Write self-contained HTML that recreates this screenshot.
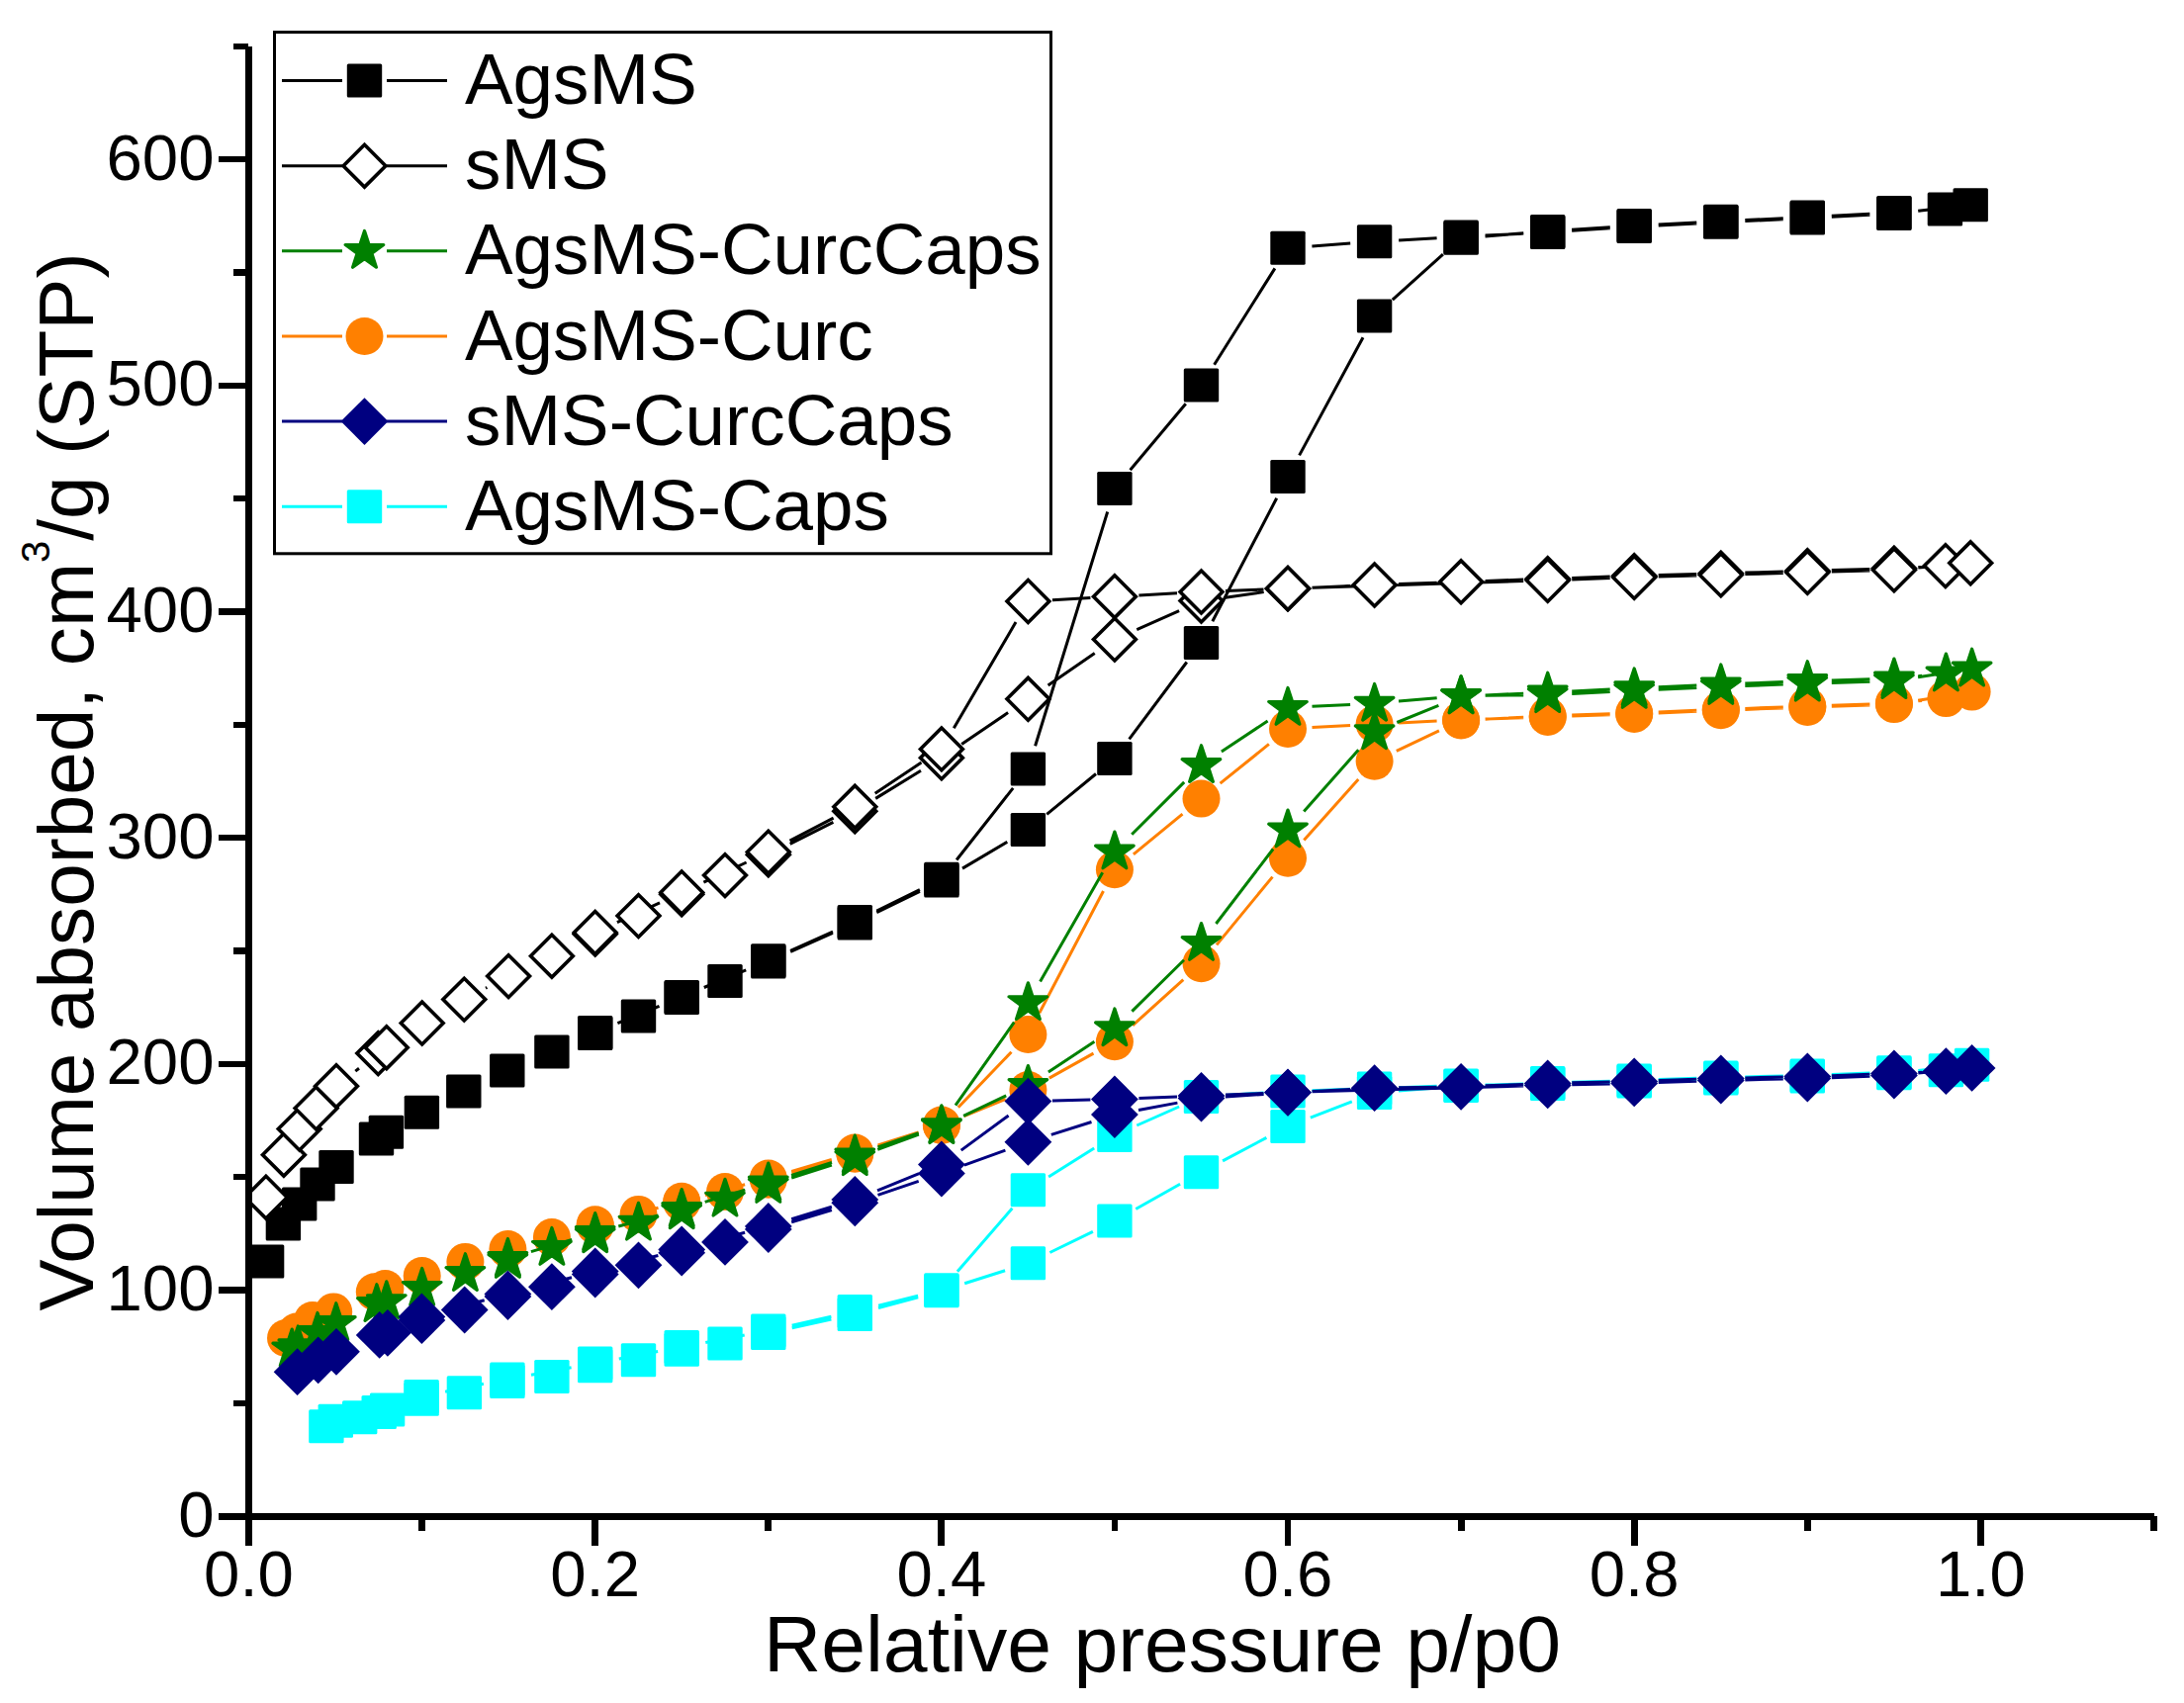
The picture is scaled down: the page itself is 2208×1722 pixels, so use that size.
<!DOCTYPE html><html><head><meta charset="utf-8"><title>Isotherms</title><style>html,body{margin:0;padding:0;background:#fff}body{width:2208px;height:1722px;position:relative;overflow:hidden}</style></head><body><svg width="2208" height="1722" viewBox="0 0 2208 1722" style="display:block;position:absolute;left:0;top:0">
<rect width="2208" height="1722" fill="#fff"/>
<defs><clipPath id="pc"><rect x="251.5" y="40" width="1940" height="1493"/></clipPath></defs>
<g clip-path="url(#pc)">
<g>
<path d="M799.2,962.5L841.9,943.4M886.3,922.6L929.9,901.3M973.0,878.1L1018.3,851.3M1058.3,823.3L1108.0,782.5M1141.6,747.3L1199.8,669.5M1225.8,628.2L1290.7,503.7M1313.6,460.4L1378.0,341.2M1407.8,303.2L1458.9,257.2M1501.5,238.9L1540.3,235.8M1589.1,232.3L1627.8,229.7M1676.7,226.9L1715.3,224.9M1764.3,222.6L1802.8,220.7M1851.8,218.3L1890.4,216.2M1939.3,213.2L1942.0,213.1M1967.9,210.0L1939.2,213.2M1890.4,217.2L1851.8,219.3M1802.8,221.7L1764.3,223.6M1715.3,225.9L1676.7,227.9M1627.8,230.7L1589.1,233.3M1540.2,236.2L1501.6,238.1M1452.6,240.8L1414.1,242.9M1365.2,246.1L1326.4,248.9M1288.9,271.4L1227.6,368.7M1198.8,408.2L1142.6,475.3M1119.7,517.5L1046.6,754.2M1024.2,796.9L967.1,869.5M929.9,899.6L886.3,921.2M842.0,942.0L799.1,961.3M754.2,980.8L711.8,998.5M666.5,1017.3L624.4,1034.7" stroke="#000000" stroke-width="3" fill="none" stroke-linecap="butt"/>
<rect x="251.9" y="1258.4" width="35.4" height="34" rx="1.5" fill="#000000"/>
<rect x="268.7" y="1220.5" width="35.4" height="34" rx="1.5" fill="#000000"/>
<rect x="285.0" y="1200.5" width="35.4" height="34" rx="1.5" fill="#000000"/>
<rect x="303.3" y="1180.5" width="35.4" height="34" rx="1.5" fill="#000000"/>
<rect x="322.3" y="1163.0" width="35.4" height="34" rx="1.5" fill="#000000"/>
<rect x="362.8" y="1134.5" width="35.4" height="34" rx="1.5" fill="#000000"/>
<rect x="372.7" y="1127.8" width="35.4" height="34" rx="1.5" fill="#000000"/>
<rect x="408.7" y="1107.8" width="35.4" height="34" rx="1.5" fill="#000000"/>
<rect x="451.1" y="1086.6" width="35.4" height="34" rx="1.5" fill="#000000"/>
<rect x="495.1" y="1065.4" width="35.4" height="34" rx="1.5" fill="#000000"/>
<rect x="540.2" y="1046.4" width="35.4" height="34" rx="1.5" fill="#000000"/>
<rect x="584.0" y="1028.0" width="35.4" height="34" rx="1.5" fill="#000000"/>
<rect x="627.8" y="1010.4" width="35.4" height="34" rx="1.5" fill="#000000"/>
<rect x="671.5" y="992.0" width="35.4" height="34" rx="1.5" fill="#000000"/>
<rect x="715.3" y="974.9" width="35.4" height="34" rx="1.5" fill="#000000"/>
<rect x="759.1" y="955.5" width="35.4" height="34" rx="1.5" fill="#000000"/>
<rect x="846.6" y="916.4" width="35.4" height="34" rx="1.5" fill="#000000"/>
<rect x="934.2" y="873.5" width="35.4" height="34" rx="1.5" fill="#000000"/>
<rect x="1021.7" y="821.9" width="35.4" height="34" rx="1.5" fill="#000000"/>
<rect x="1109.2" y="749.9" width="35.4" height="34" rx="1.5" fill="#000000"/>
<rect x="1196.8" y="632.9" width="35.4" height="34" rx="1.5" fill="#000000"/>
<rect x="1284.3" y="465.0" width="35.4" height="34" rx="1.5" fill="#000000"/>
<rect x="1371.9" y="302.6" width="35.4" height="34" rx="1.5" fill="#000000"/>
<rect x="1459.4" y="223.8" width="35.4" height="34" rx="1.5" fill="#000000"/>
<rect x="1547.0" y="216.9" width="35.4" height="34" rx="1.5" fill="#000000"/>
<rect x="1634.5" y="211.1" width="35.4" height="34" rx="1.5" fill="#000000"/>
<rect x="1722.1" y="206.7" width="35.4" height="34" rx="1.5" fill="#000000"/>
<rect x="1809.6" y="202.6" width="35.4" height="34" rx="1.5" fill="#000000"/>
<rect x="1897.2" y="197.9" width="35.4" height="34" rx="1.5" fill="#000000"/>
<rect x="1948.7" y="194.4" width="35.4" height="34" rx="1.5" fill="#000000"/>
<rect x="1974.5" y="190.3" width="35.4" height="34" rx="1.5" fill="#000000"/>
<rect x="1897.2" y="198.9" width="35.4" height="34" rx="1.5" fill="#000000"/>
<rect x="1809.6" y="203.6" width="35.4" height="34" rx="1.5" fill="#000000"/>
<rect x="1722.1" y="207.7" width="35.4" height="34" rx="1.5" fill="#000000"/>
<rect x="1634.5" y="212.1" width="35.4" height="34" rx="1.5" fill="#000000"/>
<rect x="1547.0" y="217.9" width="35.4" height="34" rx="1.5" fill="#000000"/>
<rect x="1459.4" y="222.4" width="35.4" height="34" rx="1.5" fill="#000000"/>
<rect x="1371.9" y="227.3" width="35.4" height="34" rx="1.5" fill="#000000"/>
<rect x="1284.3" y="233.7" width="35.4" height="34" rx="1.5" fill="#000000"/>
<rect x="1196.8" y="372.4" width="35.4" height="34" rx="1.5" fill="#000000"/>
<rect x="1109.2" y="477.1" width="35.4" height="34" rx="1.5" fill="#000000"/>
<rect x="1021.7" y="760.6" width="35.4" height="34" rx="1.5" fill="#000000"/>
<rect x="934.2" y="871.8" width="35.4" height="34" rx="1.5" fill="#000000"/>
<rect x="846.6" y="915.0" width="35.4" height="34" rx="1.5" fill="#000000"/>
<rect x="759.1" y="954.3" width="35.4" height="34" rx="1.5" fill="#000000"/>
<rect x="671.5" y="991.0" width="35.4" height="34" rx="1.5" fill="#000000"/>
<rect x="584.0" y="1027.0" width="35.4" height="34" rx="1.5" fill="#000000"/>
</g>
<g>
<path d="M359.3,1083.1L363.0,1080.2M491.0,999.2L492.4,998.5M798.7,853.3L842.4,831.3M885.2,807.4L931.0,779.2M972.2,752.5L1019.1,720.6M1059.6,692.9L1106.7,660.5M1149.3,636.6L1192.1,617.6M1238.8,604.2L1277.7,598.6M1326.5,594.2L1365.1,592.5M1414.1,590.6L1452.6,589.2M1501.6,587.5L1540.2,586.1M1589.2,584.5L1627.7,583.1M1676.7,581.6L1715.3,580.5M1764.3,579.1L1802.8,578.0M1851.8,576.6L1890.4,575.5M1939.4,573.5L1942.4,573.4M1967.8,571.5L1939.3,574.1M1890.4,577.0L1851.8,578.1M1802.8,579.5L1764.3,580.6M1715.3,582.0L1676.7,583.1M1627.7,584.6L1589.2,586.0M1540.2,587.6L1326.5,594.2M1277.5,596.0L1239.0,597.5M1190.0,599.8L1151.4,601.9M1102.4,604.5L1063.9,606.7M1027.0,629.1L964.3,736.3M931.5,771.0L884.7,802.2M842.6,827.2L798.5,850.2M754.6,872.0L711.4,892.1M667.0,912.8L623.9,932.7" stroke="#000000" stroke-width="3" fill="none" stroke-linecap="butt"/>
<polygon points="247.5,1210.7 268.9,1189.3 290.3,1210.7 268.9,1232.1" fill="#fff" stroke="#000000" stroke-width="3.6"/>
<polygon points="265.5,1167.7 286.9,1146.3 308.3,1167.7 286.9,1189.1" fill="#fff" stroke="#000000" stroke-width="3.6"/>
<polygon points="281.3,1141.6 302.7,1120.2 324.1,1141.6 302.7,1163.0" fill="#fff" stroke="#000000" stroke-width="3.6"/>
<polygon points="298.2,1120.5 319.6,1099.1 341.0,1120.5 319.6,1141.9" fill="#fff" stroke="#000000" stroke-width="3.6"/>
<polygon points="318.6,1098.2 340.0,1076.8 361.4,1098.2 340.0,1119.6" fill="#fff" stroke="#000000" stroke-width="3.6"/>
<polygon points="360.9,1065.1 382.3,1043.7 403.7,1065.1 382.3,1086.5" fill="#fff" stroke="#000000" stroke-width="3.6"/>
<polygon points="369.4,1059.2 390.8,1037.8 412.2,1059.2 390.8,1080.6" fill="#fff" stroke="#000000" stroke-width="3.6"/>
<polygon points="405.3,1034.5 426.7,1013.1 448.1,1034.5 426.7,1055.9" fill="#fff" stroke="#000000" stroke-width="3.6"/>
<polygon points="447.9,1010.6 469.3,989.2 490.7,1010.6 469.3,1032.0" fill="#fff" stroke="#000000" stroke-width="3.6"/>
<polygon points="492.7,987.1 514.1,965.7 535.5,987.1 514.1,1008.5" fill="#fff" stroke="#000000" stroke-width="3.6"/>
<polygon points="536.5,966.7 557.9,945.3 579.3,966.7 557.9,988.1" fill="#fff" stroke="#000000" stroke-width="3.6"/>
<polygon points="580.3,944.5 601.7,923.1 623.1,944.5 601.7,965.9" fill="#fff" stroke="#000000" stroke-width="3.6"/>
<polygon points="624.1,926.1 645.5,904.7 666.9,926.1 645.5,947.5" fill="#fff" stroke="#000000" stroke-width="3.6"/>
<polygon points="667.8,904.2 689.2,882.8 710.6,904.2 689.2,925.6" fill="#fff" stroke="#000000" stroke-width="3.6"/>
<polygon points="711.6,885.1 733.0,863.7 754.4,885.1 733.0,906.5" fill="#fff" stroke="#000000" stroke-width="3.6"/>
<polygon points="755.4,864.3 776.8,842.9 798.2,864.3 776.8,885.7" fill="#fff" stroke="#000000" stroke-width="3.6"/>
<polygon points="842.9,820.3 864.3,798.9 885.7,820.3 864.3,841.7" fill="#fff" stroke="#000000" stroke-width="3.6"/>
<polygon points="930.5,766.3 951.9,744.9 973.3,766.3 951.9,787.7" fill="#fff" stroke="#000000" stroke-width="3.6"/>
<polygon points="1018.0,706.8 1039.4,685.4 1060.8,706.8 1039.4,728.2" fill="#fff" stroke="#000000" stroke-width="3.6"/>
<polygon points="1105.5,646.6 1126.9,625.2 1148.3,646.6 1126.9,668.0" fill="#fff" stroke="#000000" stroke-width="3.6"/>
<polygon points="1193.1,607.6 1214.5,586.2 1235.9,607.6 1214.5,629.0" fill="#fff" stroke="#000000" stroke-width="3.6"/>
<polygon points="1280.6,595.2 1302.0,573.8 1323.4,595.2 1302.0,616.6" fill="#fff" stroke="#000000" stroke-width="3.6"/>
<polygon points="1368.2,591.5 1389.6,570.1 1411.0,591.5 1389.6,612.9" fill="#fff" stroke="#000000" stroke-width="3.6"/>
<polygon points="1455.7,588.3 1477.1,566.9 1498.5,588.3 1477.1,609.7" fill="#fff" stroke="#000000" stroke-width="3.6"/>
<polygon points="1543.3,585.3 1564.7,563.9 1586.1,585.3 1564.7,606.7" fill="#fff" stroke="#000000" stroke-width="3.6"/>
<polygon points="1630.8,582.3 1652.2,560.9 1673.6,582.3 1652.2,603.7" fill="#fff" stroke="#000000" stroke-width="3.6"/>
<polygon points="1718.4,579.8 1739.8,558.4 1761.2,579.8 1739.8,601.2" fill="#fff" stroke="#000000" stroke-width="3.6"/>
<polygon points="1805.9,577.3 1827.3,555.9 1848.7,577.3 1827.3,598.7" fill="#fff" stroke="#000000" stroke-width="3.6"/>
<polygon points="1893.5,574.8 1914.9,553.4 1936.3,574.8 1914.9,596.2" fill="#fff" stroke="#000000" stroke-width="3.6"/>
<polygon points="1945.5,572.1 1966.9,550.7 1988.3,572.1 1966.9,593.5" fill="#fff" stroke="#000000" stroke-width="3.6"/>
<polygon points="1970.8,569.3 1992.2,547.9 2013.6,569.3 1992.2,590.7" fill="#fff" stroke="#000000" stroke-width="3.6"/>
<polygon points="1893.5,576.3 1914.9,554.9 1936.3,576.3 1914.9,597.7" fill="#fff" stroke="#000000" stroke-width="3.6"/>
<polygon points="1805.9,578.8 1827.3,557.4 1848.7,578.8 1827.3,600.2" fill="#fff" stroke="#000000" stroke-width="3.6"/>
<polygon points="1718.4,581.3 1739.8,559.9 1761.2,581.3 1739.8,602.7" fill="#fff" stroke="#000000" stroke-width="3.6"/>
<polygon points="1630.8,583.8 1652.2,562.4 1673.6,583.8 1652.2,605.2" fill="#fff" stroke="#000000" stroke-width="3.6"/>
<polygon points="1543.3,586.8 1564.7,565.4 1586.1,586.8 1564.7,608.2" fill="#fff" stroke="#000000" stroke-width="3.6"/>
<polygon points="1280.6,595.0 1302.0,573.6 1323.4,595.0 1302.0,616.4" fill="#fff" stroke="#000000" stroke-width="3.6"/>
<polygon points="1193.1,598.5 1214.5,577.1 1235.9,598.5 1214.5,619.9" fill="#fff" stroke="#000000" stroke-width="3.6"/>
<polygon points="1105.5,603.2 1126.9,581.8 1148.3,603.2 1126.9,624.6" fill="#fff" stroke="#000000" stroke-width="3.6"/>
<polygon points="1018.0,608.0 1039.4,586.6 1060.8,608.0 1039.4,629.4" fill="#fff" stroke="#000000" stroke-width="3.6"/>
<polygon points="930.5,757.4 951.9,736.0 973.3,757.4 951.9,778.8" fill="#fff" stroke="#000000" stroke-width="3.6"/>
<polygon points="842.9,815.8 864.3,794.4 885.7,815.8 864.3,837.2" fill="#fff" stroke="#000000" stroke-width="3.6"/>
<polygon points="755.4,861.6 776.8,840.2 798.2,861.6 776.8,883.0" fill="#fff" stroke="#000000" stroke-width="3.6"/>
<polygon points="667.8,902.5 689.2,881.1 710.6,902.5 689.2,923.9" fill="#fff" stroke="#000000" stroke-width="3.6"/>
<polygon points="580.3,943.0 601.7,921.6 623.1,943.0 601.7,964.4" fill="#fff" stroke="#000000" stroke-width="3.6"/>
</g>
<g>
<path d="M800.7,1342.8L840.4,1334.1M888.0,1322.5L928.2,1311.7M975.2,1297.8L1016.1,1284.8M1061.4,1266.5L1104.9,1245.3M1148.3,1222.5L1193.1,1197.3M1236.1,1173.8L1280.4,1150.4M1324.8,1130.1L1366.8,1113.8M1414.0,1103.0L1452.7,1100.0M1501.6,1097.2L1540.2,1095.9M1589.2,1094.3L1627.7,1093.2M1676.7,1091.6L1715.3,1090.3M1764.3,1088.9L1802.8,1088.1M1851.8,1086.6L1890.4,1085.1M1939.4,1083.3L1942.9,1083.1M1969.2,1079.3L1939.3,1082.6M1890.4,1086.1L1851.8,1087.6M1802.8,1089.1L1764.3,1089.9M1715.3,1091.3L1676.7,1092.6M1627.7,1094.2L1589.2,1095.3M1540.2,1096.5L1501.6,1097.1M1452.6,1098.3L1414.1,1099.7M1365.1,1101.3L1326.5,1102.7M1277.5,1105.0L1239.0,1107.5M1192.1,1119.0L1149.3,1138.0M1106.2,1161.1L1060.1,1190.1M1023.4,1221.7L967.9,1285.8M928.1,1310.2L888.1,1320.1M840.4,1331.3L800.7,1340.2M752.7,1350.0L713.3,1357.5M665.1,1366.5L625.8,1374.0M577.6,1382.8L537.0,1390.2M488.9,1399.3L450.1,1407.2" stroke="#00FFFF" stroke-width="3" fill="none" stroke-linecap="butt"/>
<rect x="312.2" y="1425.3" width="35.4" height="34" rx="1.5" fill="#00FFFF"/>
<rect x="321.6" y="1419.7" width="35.4" height="34" rx="1.5" fill="#00FFFF"/>
<rect x="346.0" y="1416.3" width="35.4" height="34" rx="1.5" fill="#00FFFF"/>
<rect x="365.5" y="1411.0" width="35.4" height="34" rx="1.5" fill="#00FFFF"/>
<rect x="373.9" y="1408.4" width="35.4" height="34" rx="1.5" fill="#00FFFF"/>
<rect x="408.4" y="1397.7" width="35.4" height="34" rx="1.5" fill="#00FFFF"/>
<rect x="451.7" y="1391.2" width="35.4" height="34" rx="1.5" fill="#00FFFF"/>
<rect x="495.2" y="1380.0" width="35.4" height="34" rx="1.5" fill="#00FFFF"/>
<rect x="540.2" y="1374.9" width="35.4" height="34" rx="1.5" fill="#00FFFF"/>
<rect x="584.0" y="1364.3" width="35.4" height="34" rx="1.5" fill="#00FFFF"/>
<rect x="627.8" y="1358.2" width="35.4" height="34" rx="1.5" fill="#00FFFF"/>
<rect x="671.5" y="1347.7" width="35.4" height="34" rx="1.5" fill="#00FFFF"/>
<rect x="715.3" y="1341.6" width="35.4" height="34" rx="1.5" fill="#00FFFF"/>
<rect x="759.1" y="1331.0" width="35.4" height="34" rx="1.5" fill="#00FFFF"/>
<rect x="846.6" y="1311.9" width="35.4" height="34" rx="1.5" fill="#00FFFF"/>
<rect x="934.2" y="1288.3" width="35.4" height="34" rx="1.5" fill="#00FFFF"/>
<rect x="1021.7" y="1260.3" width="35.4" height="34" rx="1.5" fill="#00FFFF"/>
<rect x="1109.2" y="1217.5" width="35.4" height="34" rx="1.5" fill="#00FFFF"/>
<rect x="1196.8" y="1168.3" width="35.4" height="34" rx="1.5" fill="#00FFFF"/>
<rect x="1284.3" y="1121.9" width="35.4" height="34" rx="1.5" fill="#00FFFF"/>
<rect x="1371.9" y="1088.0" width="35.4" height="34" rx="1.5" fill="#00FFFF"/>
<rect x="1459.4" y="1081.0" width="35.4" height="34" rx="1.5" fill="#00FFFF"/>
<rect x="1547.0" y="1078.1" width="35.4" height="34" rx="1.5" fill="#00FFFF"/>
<rect x="1634.5" y="1075.4" width="35.4" height="34" rx="1.5" fill="#00FFFF"/>
<rect x="1722.1" y="1072.5" width="35.4" height="34" rx="1.5" fill="#00FFFF"/>
<rect x="1809.6" y="1070.5" width="35.4" height="34" rx="1.5" fill="#00FFFF"/>
<rect x="1897.2" y="1067.2" width="35.4" height="34" rx="1.5" fill="#00FFFF"/>
<rect x="1949.7" y="1065.2" width="35.4" height="34" rx="1.5" fill="#00FFFF"/>
<rect x="1975.9" y="1059.7" width="35.4" height="34" rx="1.5" fill="#00FFFF"/>
<rect x="1897.2" y="1068.2" width="35.4" height="34" rx="1.5" fill="#00FFFF"/>
<rect x="1809.6" y="1071.5" width="35.4" height="34" rx="1.5" fill="#00FFFF"/>
<rect x="1722.1" y="1073.5" width="35.4" height="34" rx="1.5" fill="#00FFFF"/>
<rect x="1634.5" y="1076.4" width="35.4" height="34" rx="1.5" fill="#00FFFF"/>
<rect x="1547.0" y="1079.1" width="35.4" height="34" rx="1.5" fill="#00FFFF"/>
<rect x="1459.4" y="1080.5" width="35.4" height="34" rx="1.5" fill="#00FFFF"/>
<rect x="1371.9" y="1083.5" width="35.4" height="34" rx="1.5" fill="#00FFFF"/>
<rect x="1284.3" y="1086.5" width="35.4" height="34" rx="1.5" fill="#00FFFF"/>
<rect x="1196.8" y="1092.0" width="35.4" height="34" rx="1.5" fill="#00FFFF"/>
<rect x="1109.2" y="1131.0" width="35.4" height="34" rx="1.5" fill="#00FFFF"/>
<rect x="1021.7" y="1186.2" width="35.4" height="34" rx="1.5" fill="#00FFFF"/>
<rect x="934.2" y="1287.3" width="35.4" height="34" rx="1.5" fill="#00FFFF"/>
<rect x="846.6" y="1309.0" width="35.4" height="34" rx="1.5" fill="#00FFFF"/>
<rect x="759.1" y="1328.5" width="35.4" height="34" rx="1.5" fill="#00FFFF"/>
<rect x="671.5" y="1345.0" width="35.4" height="34" rx="1.5" fill="#00FFFF"/>
<rect x="584.0" y="1361.5" width="35.4" height="34" rx="1.5" fill="#00FFFF"/>
<rect x="495.2" y="1377.5" width="35.4" height="34" rx="1.5" fill="#00FFFF"/>
<rect x="408.4" y="1395.0" width="35.4" height="34" rx="1.5" fill="#00FFFF"/>
</g>
<g>
<path d="M800.3,1185.7L840.8,1173.7M887.6,1159.1L928.6,1145.6M974.6,1128.7L1016.7,1111.3M1060.8,1090.1L1105.5,1065.1M1145.1,1036.8L1196.3,990.7M1230.0,955.4L1286.5,886.6M1318.3,849.4L1373.3,788.0M1411.8,759.3L1454.9,738.9M1501.6,727.2L1540.2,725.2M1589.2,723.1L1627.7,721.7M1676.7,719.9L1715.3,718.3M1764.3,716.4L1802.8,714.9M1851.8,713.2L1890.4,711.9M1939.3,708.8L1943.0,708.4M1969.4,703.4L1939.1,708.3M1890.4,712.9L1851.8,714.2M1802.8,715.9L1764.3,717.4M1715.3,719.3L1676.7,720.9M1627.7,722.7L1589.2,724.1M1540.2,725.8L1501.6,727.1M1452.6,729.1L1414.1,730.9M1365.1,733.4L1326.5,735.6M1282.9,752.4L1233.6,792.2M1195.5,823.1L1145.9,863.8M1115.5,901.0L1050.8,1024.3M1022.5,1063.7L968.8,1119.8M928.6,1145.0L887.6,1158.0M840.8,1172.5L800.3,1184.5M753.1,1197.8L712.9,1208.5M665.5,1221.2L625.4,1231.9" stroke="#FF8000" stroke-width="3" fill="none" stroke-linecap="butt"/>
<circle cx="289.0" cy="1353.0" r="19" fill="#FF8000"/>
<circle cx="300.0" cy="1346.5" r="19" fill="#FF8000"/>
<circle cx="316.0" cy="1335.0" r="19" fill="#FF8000"/>
<circle cx="337.2" cy="1326.4" r="19" fill="#FF8000"/>
<circle cx="378.8" cy="1306.2" r="19" fill="#FF8000"/>
<circle cx="389.4" cy="1303.0" r="19" fill="#FF8000"/>
<circle cx="426.7" cy="1290.0" r="19" fill="#FF8000"/>
<circle cx="470.4" cy="1275.9" r="19" fill="#FF8000"/>
<circle cx="513.4" cy="1263.0" r="19" fill="#FF8000"/>
<circle cx="557.9" cy="1251.1" r="19" fill="#FF8000"/>
<circle cx="601.7" cy="1239.3" r="19" fill="#FF8000"/>
<circle cx="645.5" cy="1227.9" r="19" fill="#FF8000"/>
<circle cx="689.2" cy="1215.8" r="19" fill="#FF8000"/>
<circle cx="733.0" cy="1205.0" r="19" fill="#FF8000"/>
<circle cx="776.8" cy="1192.7" r="19" fill="#FF8000"/>
<circle cx="864.3" cy="1166.7" r="19" fill="#FF8000"/>
<circle cx="951.9" cy="1138.0" r="19" fill="#FF8000"/>
<circle cx="1039.4" cy="1102.0" r="19" fill="#FF8000"/>
<circle cx="1126.9" cy="1053.2" r="19" fill="#FF8000"/>
<circle cx="1214.5" cy="974.3" r="19" fill="#FF8000"/>
<circle cx="1302.0" cy="867.7" r="19" fill="#FF8000"/>
<circle cx="1389.6" cy="769.7" r="19" fill="#FF8000"/>
<circle cx="1477.1" cy="728.5" r="19" fill="#FF8000"/>
<circle cx="1564.7" cy="723.9" r="19" fill="#FF8000"/>
<circle cx="1652.2" cy="720.9" r="19" fill="#FF8000"/>
<circle cx="1739.8" cy="717.3" r="19" fill="#FF8000"/>
<circle cx="1827.3" cy="714.0" r="19" fill="#FF8000"/>
<circle cx="1914.9" cy="711.1" r="19" fill="#FF8000"/>
<circle cx="1967.4" cy="706.1" r="19" fill="#FF8000"/>
<circle cx="1993.6" cy="699.6" r="19" fill="#FF8000"/>
<circle cx="1914.9" cy="712.1" r="19" fill="#FF8000"/>
<circle cx="1827.3" cy="715.0" r="19" fill="#FF8000"/>
<circle cx="1739.8" cy="718.3" r="19" fill="#FF8000"/>
<circle cx="1652.2" cy="721.9" r="19" fill="#FF8000"/>
<circle cx="1564.7" cy="724.9" r="19" fill="#FF8000"/>
<circle cx="1477.1" cy="728.0" r="19" fill="#FF8000"/>
<circle cx="1389.6" cy="732.0" r="19" fill="#FF8000"/>
<circle cx="1302.0" cy="737.0" r="19" fill="#FF8000"/>
<circle cx="1214.5" cy="807.6" r="19" fill="#FF8000"/>
<circle cx="1126.9" cy="879.3" r="19" fill="#FF8000"/>
<circle cx="1039.4" cy="1046.0" r="19" fill="#FF8000"/>
<circle cx="951.9" cy="1137.5" r="19" fill="#FF8000"/>
<circle cx="864.3" cy="1165.5" r="19" fill="#FF8000"/>
<circle cx="776.8" cy="1191.5" r="19" fill="#FF8000"/>
<circle cx="689.2" cy="1214.8" r="19" fill="#FF8000"/>
<circle cx="601.7" cy="1238.3" r="19" fill="#FF8000"/>
</g>
<g>
<path d="M800.2,1191.0L840.9,1178.1M887.3,1162.3L928.9,1147.1M974.1,1128.3L1017.2,1107.9M1059.9,1084.0L1106.4,1053.3M1144.4,1022.6L1197.0,970.7M1229.4,934.0L1287.1,858.5M1318.2,820.6L1373.4,758.2M1412.3,730.5L1454.4,713.3M1501.6,702.9L1540.2,701.2M1589.2,698.9L1627.7,697.0M1676.7,694.7L1715.3,693.0M1764.3,691.0L1802.8,689.5M1851.8,687.9L1890.4,686.7M1939.3,683.7L1943.0,683.3M1969.4,679.9L1939.1,684.8M1890.4,689.3L1851.8,690.5M1802.8,692.1L1764.3,693.6M1715.3,695.6L1676.7,697.3M1627.7,699.6L1589.2,701.5M1540.2,702.9L1501.6,703.3M1452.7,705.7L1414.0,709.1M1365.1,712.4L1326.5,714.3M1281.6,729.0L1234.9,760.0M1197.2,790.9L1144.2,843.7M1114.7,882.3L1051.6,992.4M1025.3,1033.7L966.0,1117.7M928.7,1145.7L887.5,1160.0M841.0,1175.5L800.1,1188.5M753.3,1203.1L712.7,1215.4M665.6,1229.0L625.3,1240.0M578.2,1253.4L536.9,1265.6" stroke="#008000" stroke-width="3" fill="none" stroke-linecap="butt"/>
<polygon points="295.2,1344.1 299.8,1358.1 314.5,1358.1 302.6,1366.8 307.1,1380.8 295.2,1372.2 283.3,1380.8 287.8,1366.8 275.9,1358.1 290.6,1358.1" fill="#008000" stroke="#008000" stroke-width="3.2" stroke-linejoin="round"/>
<polygon points="301.3,1340.9 305.9,1354.9 320.6,1354.9 308.7,1363.6 313.2,1377.6 301.3,1369.0 289.4,1377.6 293.9,1363.6 282.0,1354.9 296.7,1354.9" fill="#008000" stroke="#008000" stroke-width="3.2" stroke-linejoin="round"/>
<polygon points="321.0,1327.5 325.6,1341.5 340.3,1341.5 328.4,1350.2 332.9,1364.2 321.0,1355.6 309.1,1364.2 313.6,1350.2 301.7,1341.5 316.4,1341.5" fill="#008000" stroke="#008000" stroke-width="3.2" stroke-linejoin="round"/>
<polygon points="339.8,1317.7 344.4,1331.7 359.1,1331.7 347.2,1340.4 351.7,1354.4 339.8,1345.8 327.9,1354.4 332.4,1340.4 320.5,1331.7 335.2,1331.7" fill="#008000" stroke="#008000" stroke-width="3.2" stroke-linejoin="round"/>
<polygon points="380.9,1298.7 385.5,1312.7 400.2,1312.7 388.3,1321.4 392.8,1335.4 380.9,1326.8 369.0,1335.4 373.5,1321.4 361.6,1312.7 376.3,1312.7" fill="#008000" stroke="#008000" stroke-width="3.2" stroke-linejoin="round"/>
<polygon points="390.8,1295.8 395.4,1309.8 410.1,1309.8 398.2,1318.5 402.7,1332.5 390.8,1323.9 378.9,1332.5 383.4,1318.5 371.5,1309.8 386.2,1309.8" fill="#008000" stroke="#008000" stroke-width="3.2" stroke-linejoin="round"/>
<polygon points="426.7,1282.5 431.3,1296.5 446.0,1296.5 434.1,1305.2 438.6,1319.2 426.7,1310.6 414.8,1319.2 419.3,1305.2 407.4,1296.5 422.1,1296.5" fill="#008000" stroke="#008000" stroke-width="3.2" stroke-linejoin="round"/>
<polygon points="470.4,1267.7 475.0,1281.7 489.7,1281.7 477.8,1290.4 482.3,1304.4 470.4,1295.8 458.5,1304.4 463.0,1290.4 451.1,1281.7 465.8,1281.7" fill="#008000" stroke="#008000" stroke-width="3.2" stroke-linejoin="round"/>
<polygon points="513.4,1254.6 518.0,1268.6 532.7,1268.6 520.8,1277.3 525.3,1291.3 513.4,1282.7 501.5,1291.3 506.0,1277.3 494.1,1268.6 508.8,1268.6" fill="#008000" stroke="#008000" stroke-width="3.2" stroke-linejoin="round"/>
<polygon points="557.9,1241.5 562.5,1255.5 577.2,1255.5 565.3,1264.2 569.8,1278.2 557.9,1269.6 546.0,1278.2 550.5,1264.2 538.6,1255.5 553.3,1255.5" fill="#008000" stroke="#008000" stroke-width="3.2" stroke-linejoin="round"/>
<polygon points="601.7,1228.9 606.3,1242.9 621.0,1242.9 609.1,1251.6 613.6,1265.6 601.7,1257.0 589.8,1265.6 594.3,1251.6 582.4,1242.9 597.1,1242.9" fill="#008000" stroke="#008000" stroke-width="3.2" stroke-linejoin="round"/>
<polygon points="645.5,1216.3 650.1,1230.3 664.8,1230.3 652.9,1239.0 657.4,1253.0 645.5,1244.4 633.6,1253.0 638.1,1239.0 626.2,1230.3 640.9,1230.3" fill="#008000" stroke="#008000" stroke-width="3.2" stroke-linejoin="round"/>
<polygon points="689.2,1204.9 693.8,1218.9 708.5,1218.9 696.6,1227.6 701.1,1241.6 689.2,1233.0 677.3,1241.6 681.8,1227.6 669.9,1218.9 684.6,1218.9" fill="#008000" stroke="#008000" stroke-width="3.2" stroke-linejoin="round"/>
<polygon points="733.0,1192.3 737.6,1206.3 752.3,1206.3 740.4,1215.0 744.9,1229.0 733.0,1220.4 721.1,1229.0 725.6,1215.0 713.7,1206.3 728.4,1206.3" fill="#008000" stroke="#008000" stroke-width="3.2" stroke-linejoin="round"/>
<polygon points="776.8,1178.5 781.4,1192.5 796.1,1192.5 784.2,1201.2 788.7,1215.2 776.8,1206.6 764.9,1215.2 769.4,1201.2 757.5,1192.5 772.2,1192.5" fill="#008000" stroke="#008000" stroke-width="3.2" stroke-linejoin="round"/>
<polygon points="864.3,1150.8 868.9,1164.8 883.6,1164.8 871.7,1173.5 876.2,1187.5 864.3,1178.9 852.4,1187.5 856.9,1173.5 845.0,1164.8 859.7,1164.8" fill="#008000" stroke="#008000" stroke-width="3.2" stroke-linejoin="round"/>
<polygon points="951.9,1118.8 956.5,1132.8 971.2,1132.8 959.3,1141.5 963.8,1155.5 951.9,1146.9 940.0,1155.5 944.5,1141.5 932.6,1132.8 947.3,1132.8" fill="#008000" stroke="#008000" stroke-width="3.2" stroke-linejoin="round"/>
<polygon points="1039.4,1077.6 1044.0,1091.6 1058.7,1091.6 1046.8,1100.3 1051.3,1114.3 1039.4,1105.7 1027.5,1114.3 1032.0,1100.3 1020.1,1091.6 1034.8,1091.6" fill="#008000" stroke="#008000" stroke-width="3.2" stroke-linejoin="round"/>
<polygon points="1126.9,1019.9 1131.5,1033.9 1146.2,1033.9 1134.3,1042.6 1138.8,1056.6 1126.9,1048.0 1115.0,1056.6 1119.5,1042.6 1107.6,1033.9 1122.3,1033.9" fill="#008000" stroke="#008000" stroke-width="3.2" stroke-linejoin="round"/>
<polygon points="1214.5,933.6 1219.1,947.6 1233.8,947.6 1221.9,956.3 1226.4,970.3 1214.5,961.7 1202.6,970.3 1207.1,956.3 1195.2,947.6 1209.9,947.6" fill="#008000" stroke="#008000" stroke-width="3.2" stroke-linejoin="round"/>
<polygon points="1302.0,819.1 1306.6,833.1 1321.3,833.1 1309.4,841.8 1313.9,855.8 1302.0,847.2 1290.1,855.8 1294.6,841.8 1282.7,833.1 1297.4,833.1" fill="#008000" stroke="#008000" stroke-width="3.2" stroke-linejoin="round"/>
<polygon points="1389.6,719.9 1394.2,733.9 1408.9,733.9 1397.0,742.6 1401.5,756.6 1389.6,748.0 1377.7,756.6 1382.2,742.6 1370.3,733.9 1385.0,733.9" fill="#008000" stroke="#008000" stroke-width="3.2" stroke-linejoin="round"/>
<polygon points="1477.1,684.1 1481.7,698.1 1496.4,698.1 1484.5,706.8 1489.0,720.8 1477.1,712.2 1465.2,720.8 1469.7,706.8 1457.8,698.1 1472.5,698.1" fill="#008000" stroke="#008000" stroke-width="3.2" stroke-linejoin="round"/>
<polygon points="1564.7,680.2 1569.3,694.2 1584.0,694.2 1572.1,702.9 1576.6,716.9 1564.7,708.3 1552.8,716.9 1557.3,702.9 1545.4,694.2 1560.1,694.2" fill="#008000" stroke="#008000" stroke-width="3.2" stroke-linejoin="round"/>
<polygon points="1652.2,675.9 1656.8,689.9 1671.5,689.9 1659.6,698.6 1664.1,712.6 1652.2,704.0 1640.3,712.6 1644.8,698.6 1632.9,689.9 1647.6,689.9" fill="#008000" stroke="#008000" stroke-width="3.2" stroke-linejoin="round"/>
<polygon points="1739.8,672.0 1744.4,686.0 1759.1,686.0 1747.2,694.7 1751.7,708.7 1739.8,700.1 1727.9,708.7 1732.4,694.7 1720.5,686.0 1735.2,686.0" fill="#008000" stroke="#008000" stroke-width="3.2" stroke-linejoin="round"/>
<polygon points="1827.3,668.7 1831.9,682.7 1846.6,682.7 1834.7,691.4 1839.2,705.4 1827.3,696.8 1815.4,705.4 1819.9,691.4 1808.0,682.7 1822.7,682.7" fill="#008000" stroke="#008000" stroke-width="3.2" stroke-linejoin="round"/>
<polygon points="1914.9,666.1 1919.5,680.1 1934.2,680.1 1922.3,688.8 1926.8,702.8 1914.9,694.2 1903.0,702.8 1907.5,688.8 1895.6,680.1 1910.3,680.1" fill="#008000" stroke="#008000" stroke-width="3.2" stroke-linejoin="round"/>
<polygon points="1967.4,661.1 1972.0,675.1 1986.7,675.1 1974.8,683.8 1979.3,697.8 1967.4,689.2 1955.5,697.8 1960.0,683.8 1948.1,675.1 1962.8,675.1" fill="#008000" stroke="#008000" stroke-width="3.2" stroke-linejoin="round"/>
<polygon points="1993.6,656.2 1998.2,670.2 2012.9,670.2 2001.0,678.9 2005.5,692.9 1993.6,684.3 1981.7,692.9 1986.2,678.9 1974.3,670.2 1989.0,670.2" fill="#008000" stroke="#008000" stroke-width="3.2" stroke-linejoin="round"/>
<polygon points="1914.9,668.7 1919.5,682.7 1934.2,682.7 1922.3,691.4 1926.8,705.4 1914.9,696.8 1903.0,705.4 1907.5,691.4 1895.6,682.7 1910.3,682.7" fill="#008000" stroke="#008000" stroke-width="3.2" stroke-linejoin="round"/>
<polygon points="1827.3,671.3 1831.9,685.3 1846.6,685.3 1834.7,694.0 1839.2,708.0 1827.3,699.4 1815.4,708.0 1819.9,694.0 1808.0,685.3 1822.7,685.3" fill="#008000" stroke="#008000" stroke-width="3.2" stroke-linejoin="round"/>
<polygon points="1739.8,674.6 1744.4,688.6 1759.1,688.6 1747.2,697.3 1751.7,711.3 1739.8,702.7 1727.9,711.3 1732.4,697.3 1720.5,688.6 1735.2,688.6" fill="#008000" stroke="#008000" stroke-width="3.2" stroke-linejoin="round"/>
<polygon points="1652.2,678.5 1656.8,692.5 1671.5,692.5 1659.6,701.2 1664.1,715.2 1652.2,706.6 1640.3,715.2 1644.8,701.2 1632.9,692.5 1647.6,692.5" fill="#008000" stroke="#008000" stroke-width="3.2" stroke-linejoin="round"/>
<polygon points="1564.7,682.8 1569.3,696.8 1584.0,696.8 1572.1,705.5 1576.6,719.5 1564.7,710.9 1552.8,719.5 1557.3,705.5 1545.4,696.8 1560.1,696.8" fill="#008000" stroke="#008000" stroke-width="3.2" stroke-linejoin="round"/>
<polygon points="1477.1,683.6 1481.7,697.6 1496.4,697.6 1484.5,706.3 1489.0,720.3 1477.1,711.7 1465.2,720.3 1469.7,706.3 1457.8,697.6 1472.5,697.6" fill="#008000" stroke="#008000" stroke-width="3.2" stroke-linejoin="round"/>
<polygon points="1389.6,691.4 1394.2,705.4 1408.9,705.4 1397.0,714.1 1401.5,728.1 1389.6,719.5 1377.7,728.1 1382.2,714.1 1370.3,705.4 1385.0,705.4" fill="#008000" stroke="#008000" stroke-width="3.2" stroke-linejoin="round"/>
<polygon points="1302.0,695.5 1306.6,709.5 1321.3,709.5 1309.4,718.2 1313.9,732.2 1302.0,723.6 1290.1,732.2 1294.6,718.2 1282.7,709.5 1297.4,709.5" fill="#008000" stroke="#008000" stroke-width="3.2" stroke-linejoin="round"/>
<polygon points="1214.5,753.7 1219.1,767.7 1233.8,767.7 1221.9,776.4 1226.4,790.4 1214.5,781.8 1202.6,790.4 1207.1,776.4 1195.2,767.7 1209.9,767.7" fill="#008000" stroke="#008000" stroke-width="3.2" stroke-linejoin="round"/>
<polygon points="1126.9,841.1 1131.5,855.1 1146.2,855.1 1134.3,863.8 1138.8,877.8 1126.9,869.2 1115.0,877.8 1119.5,863.8 1107.6,855.1 1122.3,855.1" fill="#008000" stroke="#008000" stroke-width="3.2" stroke-linejoin="round"/>
<polygon points="1039.4,993.8 1044.0,1007.8 1058.7,1007.8 1046.8,1016.5 1051.3,1030.5 1039.4,1021.9 1027.5,1030.5 1032.0,1016.5 1020.1,1007.8 1034.8,1007.8" fill="#008000" stroke="#008000" stroke-width="3.2" stroke-linejoin="round"/>
<polygon points="951.9,1117.8 956.5,1131.8 971.2,1131.8 959.3,1140.5 963.8,1154.5 951.9,1145.9 940.0,1154.5 944.5,1140.5 932.6,1131.8 947.3,1131.8" fill="#008000" stroke="#008000" stroke-width="3.2" stroke-linejoin="round"/>
<polygon points="864.3,1148.1 868.9,1162.1 883.6,1162.1 871.7,1170.8 876.2,1184.8 864.3,1176.2 852.4,1184.8 856.9,1170.8 845.0,1162.1 859.7,1162.1" fill="#008000" stroke="#008000" stroke-width="3.2" stroke-linejoin="round"/>
<polygon points="776.8,1176.1 781.4,1190.1 796.1,1190.1 784.2,1198.8 788.7,1212.8 776.8,1204.2 764.9,1212.8 769.4,1198.8 757.5,1190.1 772.2,1190.1" fill="#008000" stroke="#008000" stroke-width="3.2" stroke-linejoin="round"/>
<polygon points="689.2,1202.6 693.8,1216.6 708.5,1216.6 696.6,1225.3 701.1,1239.3 689.2,1230.7 677.3,1239.3 681.8,1225.3 669.9,1216.6 684.6,1216.6" fill="#008000" stroke="#008000" stroke-width="3.2" stroke-linejoin="round"/>
<polygon points="601.7,1226.6 606.3,1240.6 621.0,1240.6 609.1,1249.3 613.6,1263.3 601.7,1254.7 589.8,1263.3 594.3,1249.3 582.4,1240.6 597.1,1240.6" fill="#008000" stroke="#008000" stroke-width="3.2" stroke-linejoin="round"/>
<polygon points="513.4,1252.6 518.0,1266.6 532.7,1266.6 520.8,1275.3 525.3,1289.3 513.4,1280.7 501.5,1289.3 506.0,1275.3 494.1,1266.6 508.8,1266.6" fill="#008000" stroke="#008000" stroke-width="3.2" stroke-linejoin="round"/>
</g>
<g>
<path d="M800.2,1235.8L840.9,1223.5M887.5,1208.4L928.7,1194.4M974.9,1178.2L1016.4,1163.1M1062.8,1147.4L1103.5,1134.5M1151.0,1122.5L1190.4,1115.1M1238.9,1108.9L1277.6,1106.4M1326.5,1103.5L1365.1,1101.5M1414.1,1099.8L1452.6,1099.2M1501.6,1097.8L1540.2,1096.4M1589.2,1094.8L1627.7,1094.0M1676.7,1092.6L1715.3,1091.3M1764.3,1089.9L1802.8,1089.1M1851.8,1087.7L1890.4,1086.3M1939.4,1084.4L1942.9,1084.3M1969.2,1082.3L1939.3,1085.1M1890.4,1088.3L1851.8,1089.7M1802.8,1091.1L1764.3,1091.9M1715.3,1093.3L1676.7,1094.6M1627.7,1096.0L1589.2,1096.8M1540.2,1098.1L1326.5,1103.8M1277.5,1105.5L1239.0,1107.0M1190.0,1109.0L1151.4,1110.4M1102.4,1112.0L1063.9,1113.0M1019.6,1128.0L971.7,1163.1M929.2,1186.7L887.0,1203.8M840.9,1220.2L800.2,1232.8M753.1,1246.3L712.9,1257.2M665.4,1269.5L625.5,1279.5M578.0,1291.7L537.1,1302.3M489.7,1314.8L450.1,1325.2" stroke="#000080" stroke-width="3" fill="none" stroke-linecap="butt"/>
<polygon points="276.7,1387.2 300.6,1363.3 324.5,1387.2 300.6,1411.1" fill="#000080"/>
<polygon points="297.8,1375.3 321.7,1351.4 345.6,1375.3 321.7,1399.2" fill="#000080"/>
<polygon points="316.1,1366.8 340.0,1342.9 363.9,1366.8 340.0,1390.7" fill="#000080"/>
<polygon points="359.8,1349.9 383.7,1326.0 407.6,1349.9 383.7,1373.8" fill="#000080"/>
<polygon points="368.0,1347.8 391.9,1323.9 415.8,1347.8 391.9,1371.7" fill="#000080"/>
<polygon points="402.5,1335.0 426.4,1311.1 450.3,1335.0 426.4,1358.9" fill="#000080"/>
<polygon points="445.8,1324.5 469.7,1300.6 493.6,1324.5 469.7,1348.4" fill="#000080"/>
<polygon points="489.5,1311.0 513.4,1287.1 537.3,1311.0 513.4,1334.9" fill="#000080"/>
<polygon points="534.0,1301.2 557.9,1277.3 581.8,1301.2 557.9,1325.1" fill="#000080"/>
<polygon points="577.8,1288.5 601.7,1264.6 625.6,1288.5 601.7,1312.4" fill="#000080"/>
<polygon points="621.6,1279.3 645.5,1255.4 669.4,1279.3 645.5,1303.2" fill="#000080"/>
<polygon points="665.3,1266.7 689.2,1242.8 713.1,1266.7 689.2,1290.6" fill="#000080"/>
<polygon points="709.1,1255.9 733.0,1232.0 756.9,1255.9 733.0,1279.8" fill="#000080"/>
<polygon points="752.9,1243.0 776.8,1219.1 800.7,1243.0 776.8,1266.9" fill="#000080"/>
<polygon points="840.4,1216.3 864.3,1192.4 888.2,1216.3 864.3,1240.2" fill="#000080"/>
<polygon points="928.0,1186.5 951.9,1162.6 975.8,1186.5 951.9,1210.4" fill="#000080"/>
<polygon points="1015.5,1154.8 1039.4,1130.9 1063.3,1154.8 1039.4,1178.7" fill="#000080"/>
<polygon points="1103.0,1127.1 1126.9,1103.2 1150.8,1127.1 1126.9,1151.0" fill="#000080"/>
<polygon points="1190.6,1110.5 1214.5,1086.6 1238.4,1110.5 1214.5,1134.4" fill="#000080"/>
<polygon points="1278.1,1104.8 1302.0,1080.9 1325.9,1104.8 1302.0,1128.7" fill="#000080"/>
<polygon points="1365.7,1100.2 1389.6,1076.3 1413.5,1100.2 1389.6,1124.1" fill="#000080"/>
<polygon points="1453.2,1098.8 1477.1,1074.9 1501.0,1098.8 1477.1,1122.7" fill="#000080"/>
<polygon points="1540.8,1095.4 1564.7,1071.5 1588.6,1095.4 1564.7,1119.3" fill="#000080"/>
<polygon points="1628.3,1093.4 1652.2,1069.5 1676.1,1093.4 1652.2,1117.3" fill="#000080"/>
<polygon points="1715.9,1090.5 1739.8,1066.6 1763.7,1090.5 1739.8,1114.4" fill="#000080"/>
<polygon points="1803.4,1088.5 1827.3,1064.6 1851.2,1088.5 1827.3,1112.4" fill="#000080"/>
<polygon points="1891.0,1085.5 1914.9,1061.6 1938.8,1085.5 1914.9,1109.4" fill="#000080"/>
<polygon points="1943.5,1083.2 1967.4,1059.3 1991.3,1083.2 1967.4,1107.1" fill="#000080"/>
<polygon points="1969.7,1079.9 1993.6,1056.0 2017.5,1079.9 1993.6,1103.8" fill="#000080"/>
<polygon points="1891.0,1087.5 1914.9,1063.6 1938.8,1087.5 1914.9,1111.4" fill="#000080"/>
<polygon points="1803.4,1090.5 1827.3,1066.6 1851.2,1090.5 1827.3,1114.4" fill="#000080"/>
<polygon points="1715.9,1092.5 1739.8,1068.6 1763.7,1092.5 1739.8,1116.4" fill="#000080"/>
<polygon points="1628.3,1095.4 1652.2,1071.5 1676.1,1095.4 1652.2,1119.3" fill="#000080"/>
<polygon points="1540.8,1097.4 1564.7,1073.5 1588.6,1097.4 1564.7,1121.3" fill="#000080"/>
<polygon points="1278.1,1104.5 1302.0,1080.6 1325.9,1104.5 1302.0,1128.4" fill="#000080"/>
<polygon points="1190.6,1108.0 1214.5,1084.1 1238.4,1108.0 1214.5,1131.9" fill="#000080"/>
<polygon points="1103.0,1111.4 1126.9,1087.5 1150.8,1111.4 1126.9,1135.3" fill="#000080"/>
<polygon points="1015.5,1113.6 1039.4,1089.7 1063.3,1113.6 1039.4,1137.5" fill="#000080"/>
<polygon points="928.0,1177.5 951.9,1153.6 975.8,1177.5 951.9,1201.4" fill="#000080"/>
<polygon points="840.4,1213.0 864.3,1189.1 888.2,1213.0 864.3,1236.9" fill="#000080"/>
<polygon points="752.9,1240.0 776.8,1216.1 800.7,1240.0 776.8,1263.9" fill="#000080"/>
<polygon points="665.3,1263.5 689.2,1239.6 713.1,1263.5 689.2,1287.4" fill="#000080"/>
<polygon points="577.8,1285.5 601.7,1261.6 625.6,1285.5 601.7,1309.4" fill="#000080"/>
<polygon points="489.5,1308.5 513.4,1284.6 537.3,1308.5 513.4,1332.4" fill="#000080"/>
<polygon points="402.5,1331.5 426.4,1307.6 450.3,1331.5 426.4,1355.4" fill="#000080"/>
</g>
</g>
<g shape-rendering="crispEdges"><rect x="248" y="47" width="7" height="1489.5" fill="#000"/><rect x="248" y="1530" width="1930" height="6.5" fill="#000"/><rect x="221" y="1530.00" width="30" height="6.5" fill="#000"/><rect x="221" y="1301.33" width="30" height="6.5" fill="#000"/><rect x="221" y="1072.66" width="30" height="6.5" fill="#000"/><rect x="221" y="843.99" width="30" height="6.5" fill="#000"/><rect x="221" y="615.32" width="30" height="6.5" fill="#000"/><rect x="221" y="386.65" width="30" height="6.5" fill="#000"/><rect x="221" y="157.98" width="30" height="6.5" fill="#000"/><rect x="236" y="1415.66" width="15" height="6.5" fill="#000"/><rect x="236" y="1186.99" width="15" height="6.5" fill="#000"/><rect x="236" y="958.32" width="15" height="6.5" fill="#000"/><rect x="236" y="729.65" width="15" height="6.5" fill="#000"/><rect x="236" y="500.98" width="15" height="6.5" fill="#000"/><rect x="236" y="272.31" width="15" height="6.5" fill="#000"/><rect x="236" y="43.64" width="15" height="6.5" fill="#000"/><rect x="248.10" y="1533" width="6.8" height="29.5" fill="#000"/><rect x="423.19" y="1533" width="6.8" height="14.5" fill="#000"/><rect x="598.28" y="1533" width="6.8" height="29.5" fill="#000"/><rect x="773.37" y="1533" width="6.8" height="14.5" fill="#000"/><rect x="948.46" y="1533" width="6.8" height="29.5" fill="#000"/><rect x="1123.55" y="1533" width="6.8" height="14.5" fill="#000"/><rect x="1298.64" y="1533" width="6.8" height="29.5" fill="#000"/><rect x="1473.73" y="1533" width="6.8" height="14.5" fill="#000"/><rect x="1648.82" y="1533" width="6.8" height="29.5" fill="#000"/><rect x="1823.91" y="1533" width="6.8" height="14.5" fill="#000"/><rect x="1999.00" y="1533" width="6.8" height="29.5" fill="#000"/><rect x="2174.09" y="1533" width="6.8" height="14.5" fill="#000"/></g>
<text transform="translate(216.5,1553.6) scale(1.0,1)" text-anchor="end" font-size="65.3" font-family="Liberation Sans, Arial, sans-serif">0</text>
<text transform="translate(216.5,1324.9) scale(1.0,1)" text-anchor="end" font-size="65.3" font-family="Liberation Sans, Arial, sans-serif">100</text>
<text transform="translate(216.5,1096.3) scale(1.0,1)" text-anchor="end" font-size="65.3" font-family="Liberation Sans, Arial, sans-serif">200</text>
<text transform="translate(216.5,867.6) scale(1.0,1)" text-anchor="end" font-size="65.3" font-family="Liberation Sans, Arial, sans-serif">300</text>
<text transform="translate(216.5,638.9) scale(1.0,1)" text-anchor="end" font-size="65.3" font-family="Liberation Sans, Arial, sans-serif">400</text>
<text transform="translate(216.5,410.2) scale(1.0,1)" text-anchor="end" font-size="65.3" font-family="Liberation Sans, Arial, sans-serif">500</text>
<text transform="translate(216.5,181.6) scale(1.0,1)" text-anchor="end" font-size="65.3" font-family="Liberation Sans, Arial, sans-serif">600</text>
<text transform="translate(251.5,1613.5) scale(1.0,1)" text-anchor="middle" font-size="65.3" font-family="Liberation Sans, Arial, sans-serif">0.0</text>
<text transform="translate(601.7,1613.5) scale(1.0,1)" text-anchor="middle" font-size="65.3" font-family="Liberation Sans, Arial, sans-serif">0.2</text>
<text transform="translate(951.9,1613.5) scale(1.0,1)" text-anchor="middle" font-size="65.3" font-family="Liberation Sans, Arial, sans-serif">0.4</text>
<text transform="translate(1302.0,1613.5) scale(1.0,1)" text-anchor="middle" font-size="65.3" font-family="Liberation Sans, Arial, sans-serif">0.6</text>
<text transform="translate(1652.2,1613.5) scale(1.0,1)" text-anchor="middle" font-size="65.3" font-family="Liberation Sans, Arial, sans-serif">0.8</text>
<text transform="translate(2002.4,1613.5) scale(1.0,1)" text-anchor="middle" font-size="65.3" font-family="Liberation Sans, Arial, sans-serif">1.0</text>
<text transform="translate(1175.0,1689.8) scale(1.02,1)" text-anchor="middle" font-size="79" font-family="Liberation Sans, Arial, sans-serif">Relative pressure p/p0</text>
<text transform="translate(94,1325.6)  rotate(-90) scale(0.998,1)" font-size="78.4" font-family="Liberation Sans, Arial, sans-serif">Volume absorbed, cm<tspan font-size="40" dy="-43.6">3</tspan><tspan dy="43.6">/g (STP)</tspan></text>
<rect x="277.5" y="32.5" width="785" height="527.3" fill="#fff" stroke="#000" stroke-width="3"/>
<path d="M285,81.5H346M391,81.5H452" stroke="#000000" stroke-width="3"/>
<rect x="350.8" y="64.5" width="35.4" height="34" rx="1.5" fill="#000000"/>
<text transform="translate(470.0,105.1) scale(1.02,1)" text-anchor="start" font-size="71.4" font-family="Liberation Sans, Arial, sans-serif">AgsMS</text>
<path d="M285,167.7H346M391,167.7H452" stroke="#000000" stroke-width="3"/>
<polygon points="347.1,167.7 368.5,146.2 389.9,167.7 368.5,189.1" fill="#fff" stroke="#000000" stroke-width="3.6"/>
<text transform="translate(470.0,191.2) scale(1.02,1)" text-anchor="start" font-size="71.4" font-family="Liberation Sans, Arial, sans-serif">sMS</text>
<path d="M285,253.8H346M391,253.8H452" stroke="#008000" stroke-width="3"/>
<polygon points="368.5,233.5 373.1,247.5 387.8,247.5 375.9,256.2 380.4,270.2 368.5,261.6 356.6,270.2 361.1,256.2 349.2,247.5 363.9,247.5" fill="#008000" stroke="#008000" stroke-width="3.2" stroke-linejoin="round"/>
<text transform="translate(470.0,277.4) scale(1.02,1)" text-anchor="start" font-size="71.4" font-family="Liberation Sans, Arial, sans-serif">AgsMS-CurcCaps</text>
<path d="M285,340.0H346M391,340.0H452" stroke="#FF8000" stroke-width="3"/>
<circle cx="368.5" cy="340.0" r="19" fill="#FF8000"/>
<text transform="translate(470.0,363.6) scale(1.02,1)" text-anchor="start" font-size="71.4" font-family="Liberation Sans, Arial, sans-serif">AgsMS-Curc</text>
<path d="M285,426.1H346M391,426.1H452" stroke="#000080" stroke-width="3"/>
<polygon points="344.6,426.1 368.5,402.2 392.4,426.1 368.5,450.0" fill="#000080"/>
<text transform="translate(470.0,449.7) scale(1.02,1)" text-anchor="start" font-size="71.4" font-family="Liberation Sans, Arial, sans-serif">sMS-CurcCaps</text>
<path d="M285,512.2H346M391,512.2H452" stroke="#00FFFF" stroke-width="3"/>
<rect x="350.8" y="495.2" width="35.4" height="34" rx="1.5" fill="#00FFFF"/>
<text transform="translate(470.0,535.9) scale(1.02,1)" text-anchor="start" font-size="71.4" font-family="Liberation Sans, Arial, sans-serif">AgsMS-Caps</text>
</svg></body></html>
